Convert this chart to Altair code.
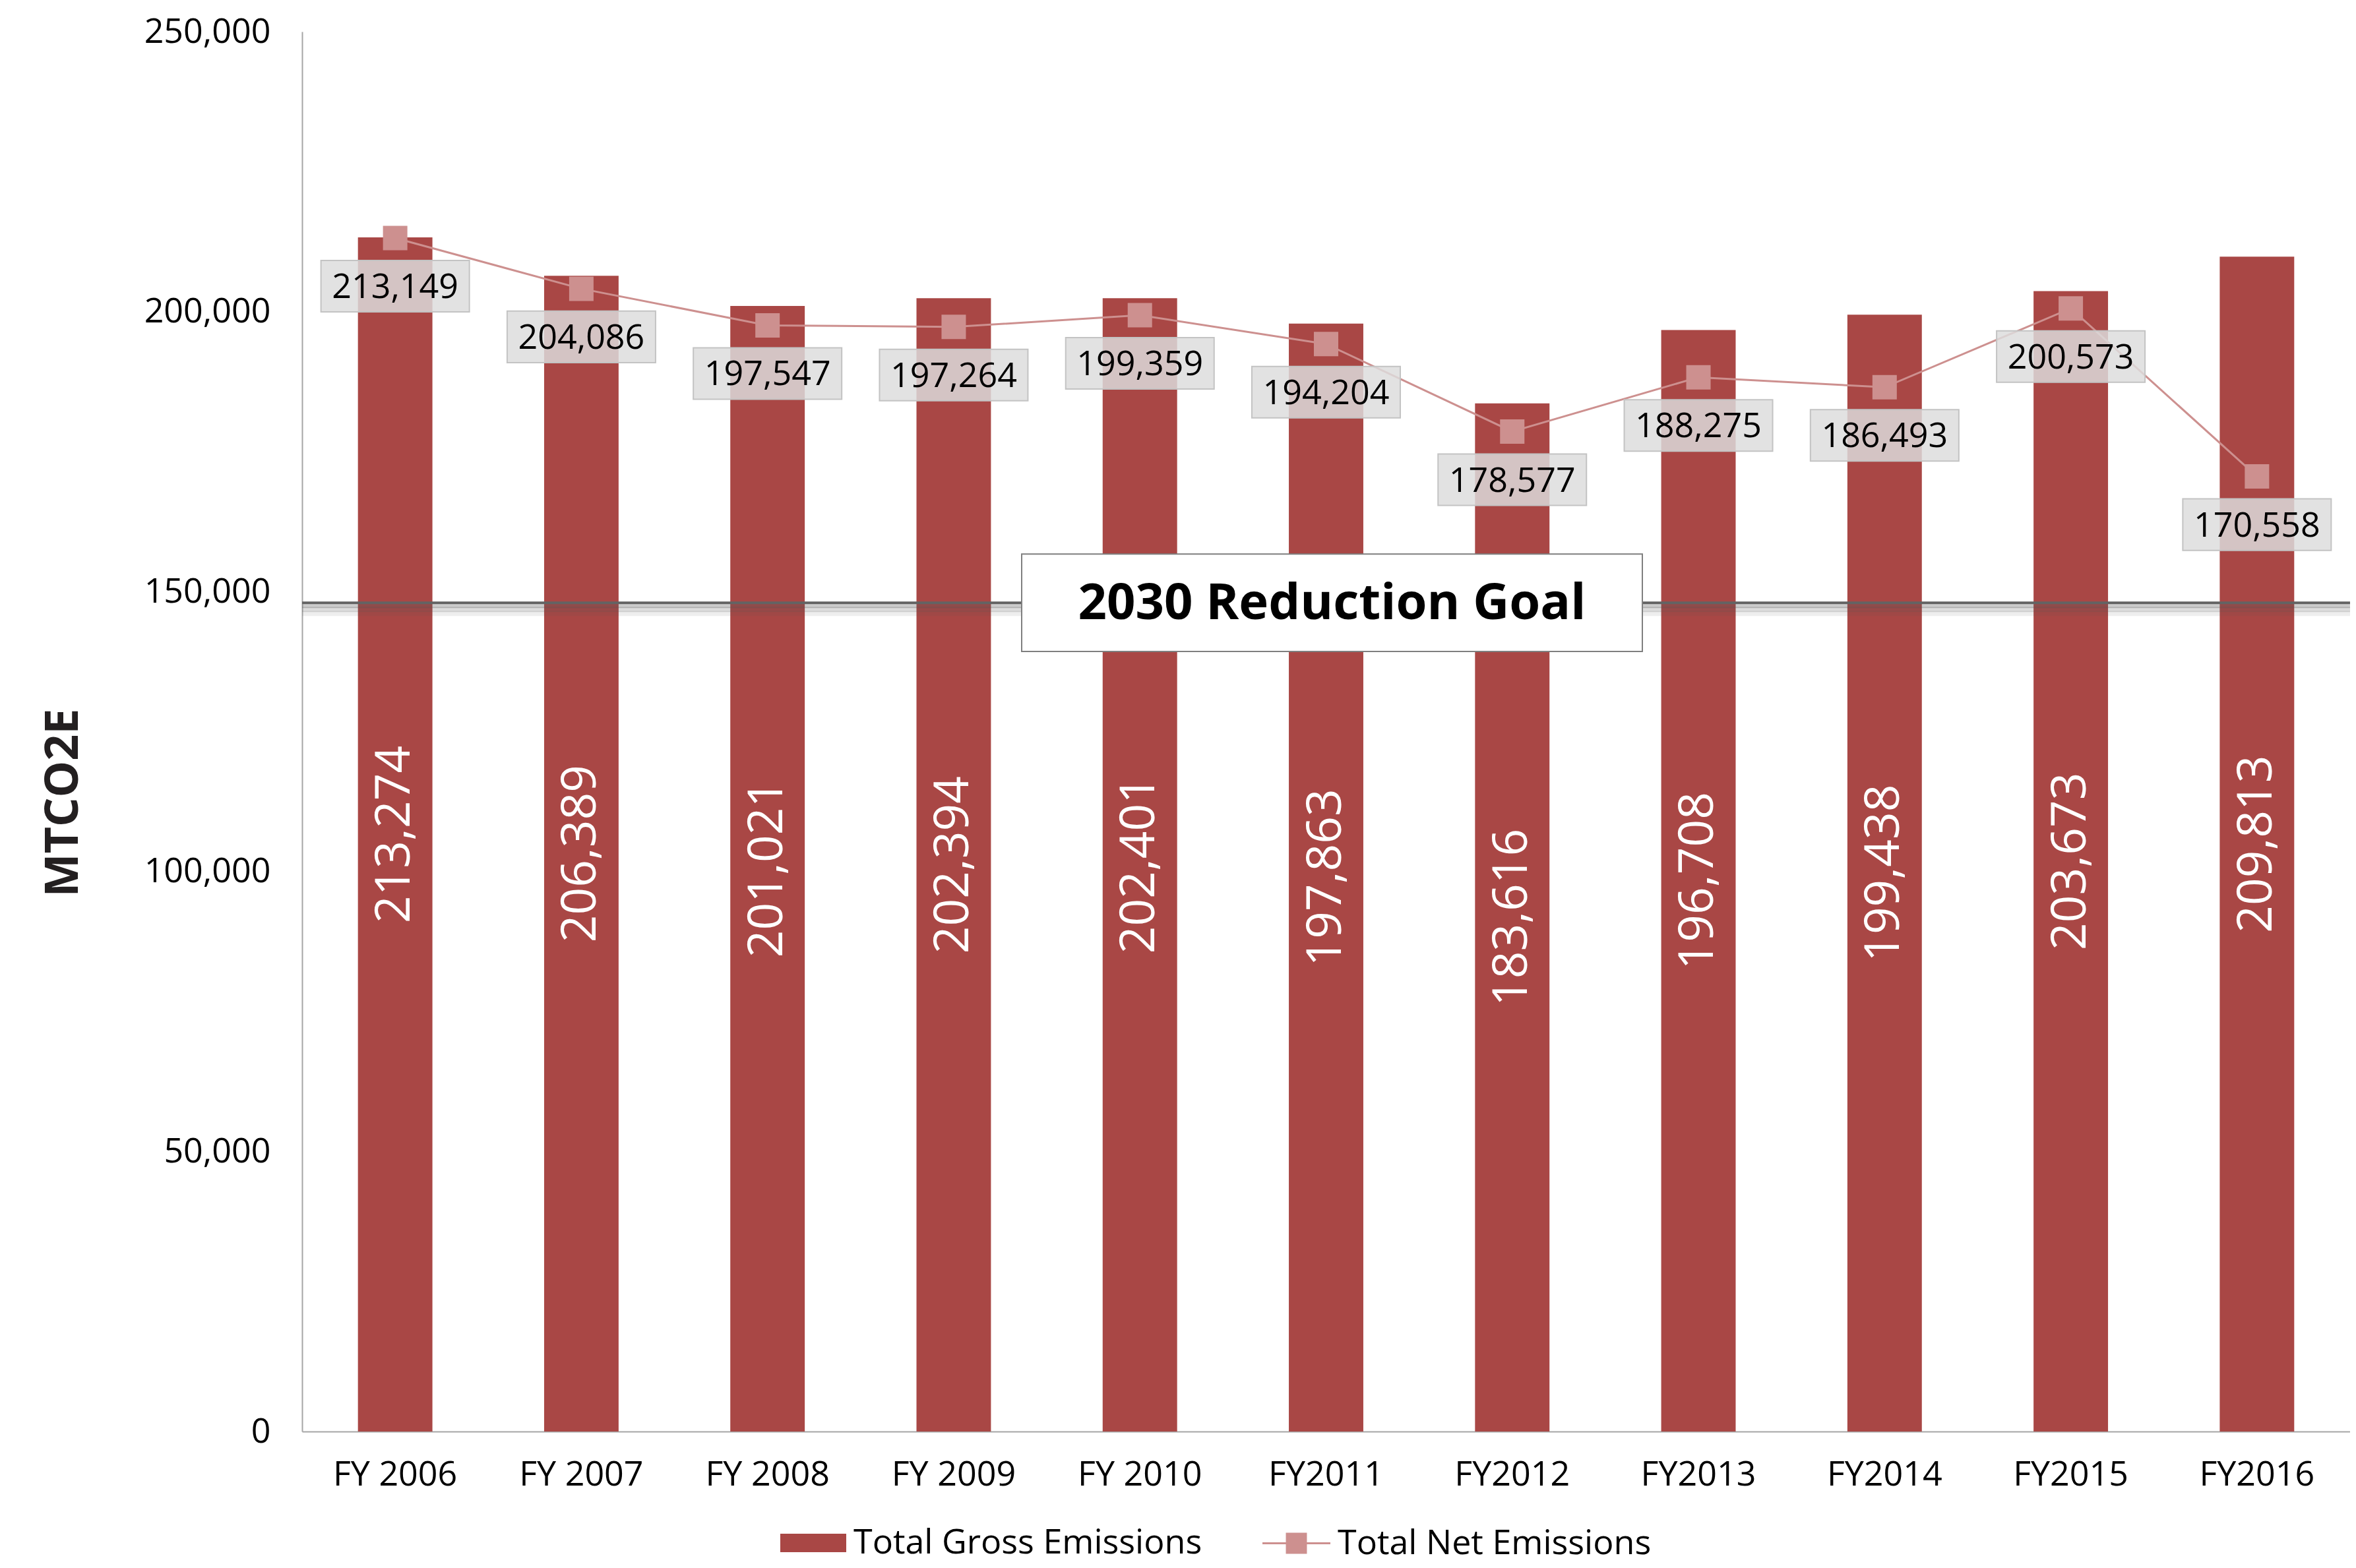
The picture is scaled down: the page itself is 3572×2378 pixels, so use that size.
import altair as alt
import pandas as pd

years = ["FY 2006", "FY 2007", "FY 2008", "FY 2009", "FY 2010", "FY2011",
         "FY2012", "FY2013", "FY2014", "FY2015", "FY2016"]
gross = [213274, 206389, 201021, 202394, 202401, 197863, 183616, 196708, 199438, 203673, 209813]
net = [213149, 204086, 197547, 197264, 199359, 194204, 178577, 188275, 186493, 200573, 170558]
goal_value = [148000]
goal_label = ["2030 Reduction Goal"]
goal_year = ["FY2011"]
y_ticks = [0, 50000, 100000, 150000, 200000, 250000]

FONT = "Open Sans"
BAR = "#a94745"
NET = "#cd908f"

df = pd.DataFrame({
    "year": years, "gross": gross, "net": net,
    "gname": ["Total Gross Emissions"] * len(years),
    "nname": ["Total Net Emissions"] * len(years),
})
gdf = pd.DataFrame({"year": goal_year, "goal": goal_value, "label": goal_label})

xs = alt.Scale(domain=years, paddingInner=0.6, paddingOuter=0.3)
ys = alt.Scale(domain=[0, 250000], nice=False)
X = alt.X("year:N", scale=xs, sort=years,
          axis=alt.Axis(title=None, labelAngle=0, labelFont=FONT, labelFontSize=52,
                        labelColor="black", labelPadding=40, ticks=False, labelLimit=0,
                        domainColor="#a6a6a6", domainWidth=2))

YAX = alt.Axis(values=y_ticks, format=",.0f", grid=False, ticks=False,
               labelFont=FONT, labelFontSize=52, labelColor="black", labelLimit=0,
               labelPadding=48, domainColor="#a6a6a6", domainWidth=2,
               title="MTCO2E", titleFont=FONT, titleFontSize=70,
               titleFontWeight="bold", titleColor="#231f20",
               titleX=-362, titleY=1169, titleAngle=270,
               titleAlign="center", titleBaseline="middle")


def Y(field):
    return alt.Y(field, scale=ys, axis=YAX, title="MTCO2E")


rect_path = "M-1,-0.28L1,-0.28L1,0.28L-1,0.28Z"
net_sym = ("M-1,-0.03L1,-0.03L1,0.03L-1,0.03Z "
           "M-0.31,-0.31L0.31,-0.31L0.31,0.31L-0.31,0.31Z")
box_path = "M-1,-0.347L1,-0.347L1,0.347L-1,0.347Z"
goal_path = "M-1,-0.157L1,-0.157L1,0.157L-1,0.157Z"

base = alt.Chart(df)

bars = base.mark_bar(opacity=1).encode(
    x=X,
    y=Y("gross:Q"),
    color=alt.Color("gname:N", scale=alt.Scale(range=[BAR]),
                    legend=alt.Legend(title=None, orient="none", legendX=724, legendY=2241,
                                      symbolType=rect_path, symbolSize=10000, labelLimit=0,
                                      labelFont=FONT, labelFontSize=52, labelColor="black",
                                      labelOffset=10)),
)

bar_text = base.transform_calculate(mid="datum.gross / 2").mark_text(
    angle=270, color="white", font=FONT, fontSize=73, align="center", baseline="middle"
).encode(x=X, y=Y("mid:Q"), text=alt.Text("gross:Q", format=","))

gbase = alt.Chart(gdf)
shadows = [
    gbase.mark_rule(color="#555555", strokeWidth=w, opacity=o, yOffset=off).encode(
        y=Y("goal:Q"))
    for off, w, o in [(5, 6, 0.30), (10, 8, 0.20), (16, 8, 0.10)]
]
goal_rule = gbase.mark_rule(color="#636363", strokeWidth=4).encode(y=Y("goal:Q"))
goal_box = gbase.mark_point(shape=goal_path, size=941 ** 2, filled=True, fill="white",
                            stroke="#7f7f7f", strokeWidth=2, opacity=1, xOffset=9).encode(
    x=X, y=Y("goal:Q"))
goal_text = gbase.mark_text(font=FONT, fontSize=76, fontWeight="bold", color="black",
                            align="center", baseline="middle", dy=2, dx=9).encode(
    x=X, y=Y("goal:Q"), text="label:N")

line = base.mark_line(color=NET, strokeWidth=3).encode(x=X, y=Y("net:Q"))
points = base.mark_point(shape="square", filled=True, size=1369, opacity=1).encode(
    x=X, y=Y("net:Q"),
    color=alt.Color("nname:N", scale=alt.Scale(range=[NET]),
                    legend=alt.Legend(title=None, orient="none", legendX=1455, legendY=2240,
                                      symbolType=net_sym, symbolSize=10609, labelLimit=0,
                                      labelFont=FONT, labelFontSize=52, labelColor="black",
                                      labelOffset=10)),
)
label_box = base.mark_point(shape=box_path, size=225 ** 2, filled=True, fill="#dcdcdc",
                            fillOpacity=0.84, stroke="#c3c3c3", strokeWidth=2,
                            opacity=1, yOffset=73).encode(x=X, y=Y("net:Q"))
label_text = base.mark_text(font=FONT, fontSize=52, color="black", align="center",
                            baseline="middle", dy=75).encode(
    x=X, y=Y("net:Q"), text=alt.Text("net:Q", format=","))

chart = alt.layer(
    bars, bar_text, *shadows, goal_rule, goal_box, goal_text,
    line, points, label_box, label_text
).resolve_scale(color="independent").properties(
    width=3105, height=2123,
    autosize=alt.AutoSizeParams(type="none"),
    padding={"left": 450, "top": 40, "right": 0, "bottom": 199},
    background="white",
).configure_view(stroke=None)

chart.save("out.html", embed_options={"renderer": "svg", "actions": False})
